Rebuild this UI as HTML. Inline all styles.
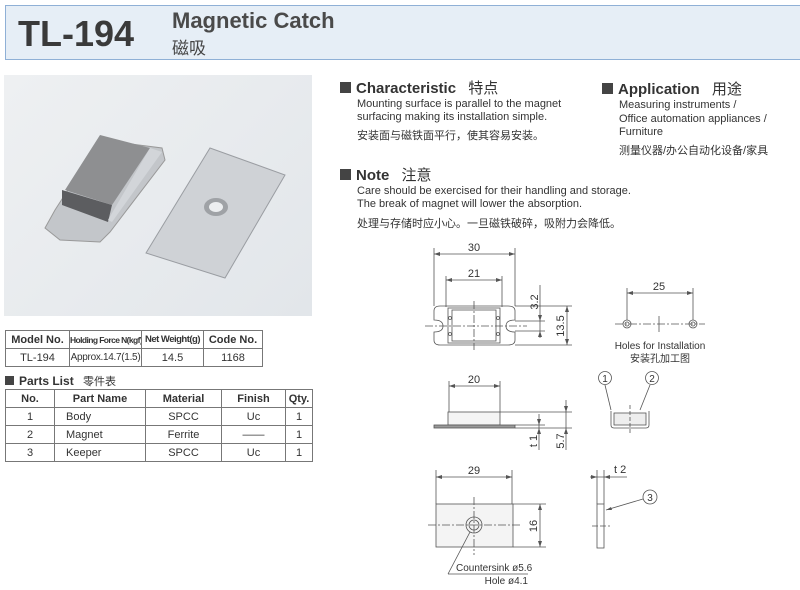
<!DOCTYPE html>
<html><head><meta charset="utf-8"><style>
body{margin:0;width:800px;height:590px;background:#fff;position:relative;overflow:hidden;font-family:"Liberation Sans","Noto Sans CJK SC",sans-serif;color:#333}
.a{position:absolute;white-space:nowrap}
table{position:absolute;border-collapse:collapse;font-size:11px;table-layout:fixed}
td{border:1px solid #777;text-align:center;padding:0;height:17px;color:#333;white-space:nowrap;overflow:hidden}
.sq{display:inline-block;width:11px;height:11px;background:#444;margin-right:5px}
</style></head><body>
<div class="a" style="left:5px;top:5px;width:800px;height:55px;background:#e6eef6;border:1px solid #8fb0d6;box-sizing:border-box"></div>
<div class="a" style="left:18px;top:13px;font-size:36px;font-weight:bold;color:#3a3a3a">TL-194</div>
<div class="a" style="left:172px;top:8px;font-size:22px;font-weight:bold;color:#4a4a4a">Magnetic Catch</div>
<div class="a" style="left:172px;top:34px;font-size:17px;color:#444">磁吸</div>

<div class="a" style="left:4px;top:75px;width:308px;height:241px;background:linear-gradient(135deg,#eef0f2,#e2e6ea)"></div>
<svg class="a" style="left:0;top:0" width="800" height="590">
<g>
<polygon points="45,228 55,210 100,140 162,148 165,160 110,232 100,242 60,240" fill="#c3c6ca" stroke="#999"/>
<polygon points="65,190 100,135 150,148 112,205" fill="#8e8f91"/>
<polygon points="62,190 112,205 108,222 62,205" fill="#5c5d60"/>
<polygon points="150,148 162,152 112,222 108,220" fill="#d2d5d9"/>
<polygon points="146,253 210,148 285,175 225,278" fill="#cfd2d6" stroke="#9a9da2"/>
<ellipse cx="216" cy="207" rx="12" ry="9" fill="#9fa2a6"/>
<ellipse cx="216" cy="207" rx="7" ry="5" fill="#eceef0"/>
</g>
<g stroke="#555" stroke-width="0.8" fill="none">
<line x1="434" y1="248" x2="434" y2="306"/><line x1="515" y1="248" x2="515" y2="306"/>
<line x1="434" y1="254" x2="515" y2="254"/>
<line x1="446" y1="276" x2="446" y2="307"/><line x1="502" y1="276" x2="502" y2="307"/>
<line x1="446" y1="280" x2="502" y2="280"/>
<path d="M440,306 H508 Q515,306 515,311 V320 Q506,320 506,326 Q506,332 515,332 V340 Q515,345 508,345 H440 Q434,345 434,340 V332 Q443,332 443,326 Q443,320 434,320 V311 Q434,306 440,306 Z"/>
<rect x="448" y="308" width="52" height="35"/><rect x="452" y="310" width="44" height="31"/>
<circle cx="450" cy="318" r="1.5"/><circle cx="450" cy="334" r="1.5"/><circle cx="498" cy="318" r="1.5"/><circle cx="498" cy="334" r="1.5"/>
<line x1="425" y1="326" x2="527" y2="326" stroke-dasharray="8,2,2,2"/>
<line x1="474" y1="301" x2="474" y2="350" stroke-dasharray="8,2,2,2"/>
<line x1="515" y1="306" x2="572" y2="306"/><line x1="515" y1="345" x2="572" y2="345"/>
<line x1="567" y1="306" x2="567" y2="345"/>
<line x1="515" y1="321" x2="545" y2="321"/><line x1="515" y1="331" x2="545" y2="331"/>
<line x1="540" y1="285" x2="540" y2="338"/>
<line x1="627" y1="288" x2="627" y2="320"/><line x1="693" y1="288" x2="693" y2="320"/>
<line x1="627" y1="293" x2="693" y2="293"/>
<line x1="615" y1="324" x2="705" y2="324" stroke-dasharray="8,2,2,2"/>
<line x1="659" y1="316" x2="659" y2="332"/>
<circle cx="627" cy="324" r="4"/><circle cx="627" cy="324" r="2"/>
<circle cx="693" cy="324" r="4"/><circle cx="693" cy="324" r="2"/>
<line x1="449" y1="381" x2="449" y2="412"/><line x1="500" y1="381" x2="500" y2="412"/>
<line x1="449" y1="386" x2="500" y2="386"/>
<rect x="448" y="412" width="52" height="13" fill="#f4f4f4"/>
<rect x="434" y="425" width="81" height="3" fill="#999"/>
<line x1="500" y1="412" x2="572" y2="412"/><line x1="515" y1="425" x2="545" y2="425"/><line x1="515" y1="428" x2="572" y2="428"/>
<line x1="566" y1="400" x2="566" y2="450"/><line x1="539" y1="414" x2="539" y2="450"/>
<path d="M611,411 V425 Q611,428 614,428 H646 Q649,428 649,425 V411"/>
<rect x="614" y="413" width="32" height="12" fill="#eee"/>
<line x1="630" y1="405" x2="630" y2="435" stroke-dasharray="4,2"/>
<circle cx="605" cy="378" r="6.5"/><circle cx="652" cy="378" r="6.5"/>
<line x1="605" y1="385" x2="611" y2="410"/><line x1="650" y1="385" x2="640" y2="410"/>
<line x1="436" y1="470" x2="436" y2="504"/><line x1="512" y1="470" x2="512" y2="504"/>
<line x1="436" y1="477" x2="512" y2="477"/>
<rect x="436" y="504" width="77" height="43" fill="#f4f4f4"/>
<circle cx="474" cy="525" r="8"/><circle cx="474" cy="525" r="5"/>
<line x1="428" y1="525" x2="520" y2="525" stroke-dasharray="8,2,2,2"/>
<line x1="474" y1="497" x2="474" y2="555" stroke-dasharray="8,2,2,2"/>
<line x1="513" y1="504" x2="546" y2="504"/><line x1="513" y1="547" x2="546" y2="547"/>
<line x1="540" y1="504" x2="540" y2="547"/>
<line x1="470" y1="532" x2="448" y2="574"/><line x1="448" y1="574" x2="528" y2="574"/>
<line x1="597" y1="470" x2="597" y2="504"/><line x1="604" y1="470" x2="604" y2="504"/>
<line x1="590" y1="477" x2="627" y2="477"/>
<rect x="597" y="504" width="7" height="44"/>
<line x1="592" y1="526" x2="610" y2="526" stroke-dasharray="6,2"/>
<circle cx="650" cy="497" r="7"/><line x1="643" y1="499" x2="606" y2="510"/>
</g>
<g fill="#555">
<path d="M434,254 l6,-2 v4z M515,254 l-6,-2 v4z M446,280 l6,-2 v4z M502,280 l-6,-2 v4z"/>
<path d="M567,306 l-2,6 h4z M567,345 l-2,-6 h4z M540,321 l-2,-6 h4z M540,331 l-2,6 h4z"/>
<path d="M627,293 l6,-2 v4z M693,293 l-6,-2 v4z"/>
<path d="M449,386 l6,-2 v4z M500,386 l-6,-2 v4z M566,412 l-2,-6 h4z M566,428 l-2,6 h4z M539,425 l-2,-6 h4z M539,428 l-2,6 h4z"/>
<path d="M436,477 l6,-2 v4z M512,477 l-6,-2 v4z M540,504 l-2,6 h4z M540,547 l-2,-6 h4z M597,477 l-6,-2 v4z M604,477 l6,-2 v4z M606,510 l5,-3 l1,3z"/>
</g>
<g font-size="11" fill="#333" font-family="Liberation Sans,sans-serif">
<text x="474" y="251" text-anchor="middle">30</text>
<text x="474" y="277" text-anchor="middle">21</text>
<text x="659" y="290" text-anchor="middle">25</text>
<text x="474" y="383" text-anchor="middle">20</text>
<text x="474" y="474" text-anchor="middle">29</text>
<text x="614" y="473">t 2</text>
<text transform="translate(538,302) rotate(-90)" text-anchor="middle">3.2</text>
<text transform="translate(564,326) rotate(-90)" text-anchor="middle">13.5</text>
<text transform="translate(537,441) rotate(-90)" text-anchor="middle">t 1</text>
<text transform="translate(564,441) rotate(-90)" text-anchor="middle">5.7</text>
<text transform="translate(537,526) rotate(-90)" text-anchor="middle">16</text>
<text x="605" y="382" text-anchor="middle" font-size="10">1</text>
<text x="652" y="382" text-anchor="middle" font-size="10">2</text>
<text x="650" y="501" text-anchor="middle" font-size="10">3</text>
<text x="456" y="571" font-size="10">Countersink ø5.6</text>
<text x="528" y="584" font-size="10" text-anchor="end">Hole ø4.1</text>
<text x="660" y="349" font-size="10" text-anchor="middle">Holes for Installation</text>
<text x="660" y="362" font-size="10" text-anchor="middle" font-family="Noto Sans CJK SC,sans-serif">安装孔加工图</text>
</g>
</svg>

<div class="a" style="left:340px;top:77px;font-size:15px;font-weight:bold;color:#333"><span class="sq"></span>Characteristic <span style="font-weight:normal;margin-left:8px">特点</span></div>
<div class="a" style="left:357px;top:98px;font-size:11px;line-height:13px">Mounting surface is parallel to the magnet<br>surfacing making its installation simple.</div>
<div class="a" style="left:357px;top:127px;font-size:11px">安装面与磁铁面平行，使其容易安装。</div>
<div class="a" style="left:340px;top:164px;font-size:15px;font-weight:bold"><span class="sq"></span>Note <span style="font-weight:normal;margin-left:8px">注意</span></div>
<div class="a" style="left:357px;top:185px;font-size:11px;line-height:13px">Care should be exercised for their handling and storage.<br>The break of magnet will lower the absorption.</div>
<div class="a" style="left:357px;top:215px;font-size:11px">处理与存储时应小心。一旦磁铁破碎，吸附力会降低。</div>
<div class="a" style="left:602px;top:78px;font-size:15px;font-weight:bold"><span class="sq"></span>Application <span style="font-weight:normal;margin-left:8px">用途</span></div>
<div class="a" style="left:619px;top:99px;font-size:11px;line-height:13.5px">Measuring instruments /<br>Office automation appliances /<br>Furniture</div>
<div class="a" style="left:619px;top:142px;font-size:11px">测量仪器/办公自动化设备/家具</div>

<table style="left:5px;top:330px;width:258px">
<tr style="font-weight:bold"><td style="width:63px;font-size:11px">Model No.</td><td style="width:71px;font-size:8.5px;letter-spacing:-0.6px">Holding Force N(kgf)</td><td style="width:61px;font-size:9.5px;letter-spacing:-0.5px">Net Weight(g)</td><td style="font-size:11px">Code No.</td></tr>
<tr><td>TL-194</td><td style="font-size:10px;letter-spacing:-0.3px">Approx.14.7(1.5)</td><td>14.5</td><td>1168</td></tr>
</table>
<div class="a" style="left:5px;top:373px;font-size:12px;font-weight:bold"><span class="sq" style="width:9px;height:9px"></span>Parts List <span style="font-weight:normal;margin-left:6px;font-size:11px">零件表</span></div>
<table style="left:5px;top:389px;width:308px">
<tr style="font-weight:bold"><td style="width:48px">No.</td><td style="width:90px">Part Name</td><td style="width:75px">Material</td><td style="width:63px">Finish</td><td>Qty.</td></tr>
<tr><td>1</td><td style="text-align:left;padding-left:11px">Body</td><td>SPCC</td><td>Uc</td><td>1</td></tr>
<tr><td>2</td><td style="text-align:left;padding-left:11px">Magnet</td><td>Ferrite</td><td>——</td><td>1</td></tr>
<tr><td>3</td><td style="text-align:left;padding-left:11px">Keeper</td><td>SPCC</td><td>Uc</td><td>1</td></tr>
</table>
</body></html>
